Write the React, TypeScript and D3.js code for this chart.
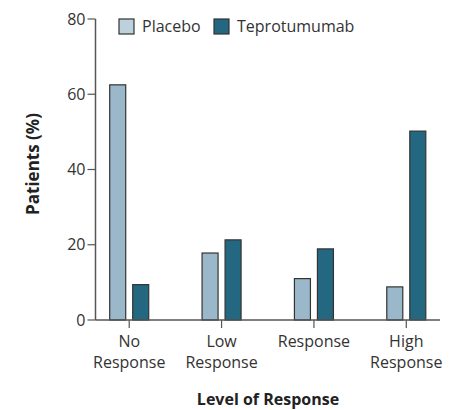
import { useEffect, useRef } from 'react';
import * as d3 from 'd3';

const categories = ['No Response', 'Low Response', 'Response', 'High Response'];
const categoryLines = [['No', 'Response'], ['Low', 'Response'], ['Response'], ['High', 'Response']];
const placebo = [62.5, 17.8, 11, 8.8];
const teprotumumab = [9.4, 21.3, 18.9, 50.2];
const yTicks = [0, 20, 40, 60, 80];
const seriesNames = ['Placebo', 'Teprotumumab'];

const FONT = '"Open Sans", Lato, sans-serif';

export default function App() {
  const svgRef = useRef<SVGSVGElement>(null);

  useEffect(() => {
    if (!svgRef.current) return;
    const svg = d3.select(svgRef.current);
    svg.selectAll('*').remove();

    const left = 95.5;
    const right = 440;
    const top = 19;
    const bottom = 320;

    const x = d3.scalePoint<string>().domain(categories).range([left, right]).padding(0.365);
    const y = d3.scaleLinear().domain([0, 80]).range([bottom, top]);

    const barW = 16;
    const offset = 11.5;
    const colors = ['#9bb8ca', '#236780'];
    const axisColor = '#555';

    // bars
    const series = [placebo, teprotumumab];
    series.forEach((vals, si) => {
      svg.append('g')
        .selectAll('rect')
        .data(vals)
        .enter()
        .append('rect')
        .attr('x', (d, i) => (x(categories[i]) as number) + (si === 0 ? -offset : offset) - barW / 2)
        .attr('y', d => y(d))
        .attr('width', barW)
        .attr('height', d => bottom - y(d))
        .attr('fill', colors[si])
        .attr('stroke', '#333')
        .attr('stroke-width', 1.2);
    });

    // axes
    svg.append('line')
      .attr('x1', left).attr('x2', left)
      .attr('y1', top).attr('y2', bottom)
      .attr('stroke', axisColor).attr('stroke-width', 1.5);
    svg.append('line')
      .attr('x1', left).attr('x2', right)
      .attr('y1', bottom).attr('y2', bottom)
      .attr('stroke', axisColor).attr('stroke-width', 1.5);

    yTicks.forEach(t => {
      svg.append('line')
        .attr('x1', left - 8).attr('x2', left)
        .attr('y1', y(t)).attr('y2', y(t))
        .attr('stroke', axisColor).attr('stroke-width', 1.2);
      svg.append('text')
        .attr('x', left - 10)
        .attr('y', y(t) + 5.5)
        .attr('text-anchor', 'end')
        .attr('font-family', FONT)
        .attr('font-size', 16)
        .attr('fill', '#333')
        .text(t);
    });

    categories.forEach((c, i) => {
      const cx = x(c) as number;
      svg.append('line')
        .attr('x1', cx).attr('x2', cx)
        .attr('y1', bottom).attr('y2', bottom + 8)
        .attr('stroke', axisColor).attr('stroke-width', 1.2);
      categoryLines[i].forEach((ln, j) => {
        svg.append('text')
          .attr('x', cx)
          .attr('y', 347 + j * 21)
          .attr('text-anchor', 'middle')
          .attr('font-family', FONT)
          .attr('font-size', 16)
          .attr('fill', '#333')
          .text(ln);
      });
    });

    // axis titles
    svg.append('text')
      .attr('transform', `translate(38.5, 164) rotate(-90)`)
      .attr('text-anchor', 'middle')
      .attr('font-family', FONT)
      .attr('font-weight', 'bold')
      .attr('font-size', 17)
      .attr('fill', '#222')
      .text('Patients (%)');

    svg.append('text')
      .attr('x', 268)
      .attr('y', 405)
      .attr('text-anchor', 'middle')
      .attr('font-family', FONT)
      .attr('font-weight', 'bold')
      .attr('font-size', 16)
      .attr('fill', '#222')
      .text('Level of Response');

    // legend
    const legendColors = ['#bdd1dd', '#236780'];
    const legendX = [119, 214];
    seriesNames.forEach((n, i) => {
      svg.append('rect')
        .attr('x', legendX[i])
        .attr('y', 19)
        .attr('width', 15)
        .attr('height', 15)
        .attr('fill', legendColors[i])
        .attr('stroke', '#333')
        .attr('stroke-width', 1.2);
      svg.append('text')
        .attr('x', legendX[i] + 23)
        .attr('y', 31.5)
        .attr('font-family', FONT)
        .attr('font-size', 16)
        .attr('fill', '#333')
        .text(n);
    });
  }, []);

  return (
    <svg
      ref={svgRef}
      width={451}
      height={410}
      style={{ position: 'absolute', left: 0, top: 0, background: '#fff' }}
    />
  );
}
